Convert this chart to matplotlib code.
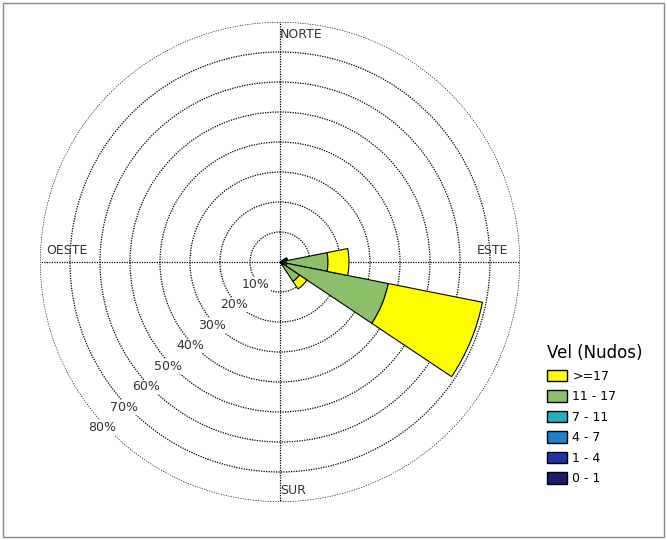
import numpy as np
import matplotlib
matplotlib.use("Agg")
import matplotlib.pyplot as plt
from matplotlib.patches import Patch, Rectangle

directions = [67.5, 90.0, 112.5, 135.0]
bins = ["0 - 1", "1 - 4", "4 - 7", "7 - 11", "11 - 17", ">=17"]
colors = ["#1a1a6e", "#2233aa", "#1f7fd0", "#20b0c0", "#8cbf6a", "#ffff00"]
values = {
    "0 - 1":   [0.5, 0.3, 0.3, 0.2],
    "1 - 4":   [0.8, 0.5, 0.5, 0.3],
    "4 - 7":   [0.5, 0.5, 0.5, 0.3],
    "7 - 11":  [0.4, 0.7, 1.0, 0.5],
    "11 - 17": [0.3, 14.0, 34.5, 6.5],
    ">=17":    [0.0, 7.0, 32.0, 3.0],
}
ring_labels = ["10%", "20%", "30%", "40%", "50%", "60%", "70%", "80%"]

W, H = 667, 540
fig = plt.figure(figsize=(W/100, H/100), dpi=100)
fig.patches.append(Rectangle((3/W, 3/H), 1-6/W, 1-6/H, transform=fig.transFigure,
                             fill=False, edgecolor="#888888", lw=1))
cx, cy, R = 280, 262, 240
ax = fig.add_axes([(cx-R)/W, (H-cy-R)/H, 2*R/W, 2*R/H], projection="polar")
ax.set_theta_zero_location("N")
ax.set_theta_direction(-1)
ax.set_ylim(0, 80)
width = np.deg2rad(22.5)
theta = np.deg2rad(directions)
bottom = np.zeros(len(directions))
for b, c in zip(bins, colors):
    v = np.array(values[b])
    ax.bar(theta, v, width=width, bottom=bottom, color=c, edgecolor="black", lw=0.8, zorder=3)
    bottom += v

ax.set_yticks([10, 20, 30, 40, 50, 60, 70, 80])
ax.set_yticklabels([])
ax.set_xticks(np.deg2rad([0, 90, 180, 270]))
ax.set_xticklabels([])
ax.grid(True, color="black", linestyle=(0, (1, 1)), lw=0.9)
ax.spines["polar"].set_visible(False)
ax.patch.set_alpha(0)
ang = np.deg2rad(227)
for i, lab in enumerate(ring_labels):
    r = (i + 1) * 10
    ax.text(ang, r + 1, lab, ha="center", va="center", fontsize=9, color="#333333", zorder=5,
            bbox=dict(facecolor="white", edgecolor="none", pad=0.5))
ax.text(0, 76, "NORTE", ha="left", va="center", fontsize=9, color="#333333")
ax.text(np.pi, 76, "SUR", ha="left", va="center", fontsize=9, color="#333333")
ax.text(np.deg2rad(87), 71, "ESTE", ha="center", va="center", fontsize=9, color="#333333")
ax.text(np.deg2rad(273), 71, "OESTE", ha="center", va="center", fontsize=9, color="#333333")

handles = [Patch(facecolor=c, edgecolor="black", label=b) for b, c in zip(bins[::-1], colors[::-1])]
leg = fig.legend(handles=handles, title="Vel (Nudos)", loc="upper left",
                 bbox_to_anchor=(536/W, 1-333/H), frameon=False, fontsize=9,
                 title_fontsize=12, handlelength=1.6, handleheight=1.0,
                 labelspacing=0.6, handletextpad=0.4)
leg._legend_box.align = "left"
fig.savefig("out.png", dpi=100)
